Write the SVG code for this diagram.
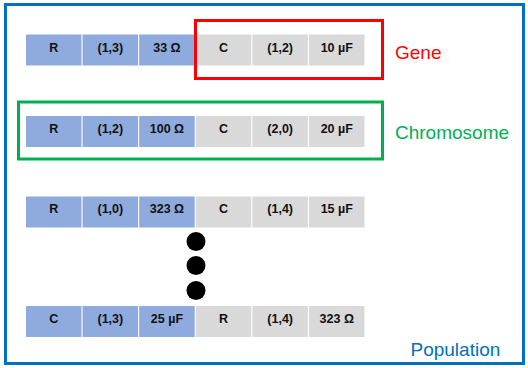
<svg xmlns="http://www.w3.org/2000/svg" width="528" height="368" viewBox="0 0 528 368">
  <style>
    .b { fill: #8FAADC; }
    .g { fill: #D9D9D9; }
    .t { font-family: "Liberation Sans", Arial, sans-serif; font-weight: bold; font-size: 12.5px; fill: #111; text-anchor: middle; }
    .lbl { font-family: "Liberation Sans", Arial, sans-serif; font-size: 19px; }
  </style>
  <rect width="528" height="368" fill="#fff"/>
  <g id="population">
    <rect x="5.5" y="4.5" width="518" height="359" fill="none" stroke="#0070C0" stroke-width="3"/>
    <text class="lbl" x="410.5" y="356" fill="#0070C0">Population</text>
  </g>

  <g id="chromosome1">
    <rect class="b" x="26" y="34.5" width="55.5" height="31"/>
    <rect class="b" x="82.6" y="34.5" width="55.5" height="31"/>
    <rect class="b" x="139.2" y="34.5" width="55.5" height="31"/>
    <rect class="g" x="195.8" y="34.5" width="55.5" height="31"/>
    <rect class="g" x="252.4" y="34.5" width="55.5" height="31"/>
    <rect class="g" x="309" y="34.5" width="55.5" height="31"/>
    <text class="t" x="53.75" y="51.7">R</text>
    <text class="t" x="110.35" y="51.7">(1,3)</text>
    <text class="t" x="166.95" y="51.7">33 Ω</text>
    <text class="t" x="223.55" y="51.7">C</text>
    <text class="t" x="280.15" y="51.7">(1,2)</text>
    <text class="t" x="336.75" y="51.7">10 µF</text>
  </g>

  <g id="chromosome2">
    <rect class="b" x="26" y="116" width="55.5" height="31"/>
    <rect class="b" x="82.6" y="116" width="55.5" height="31"/>
    <rect class="b" x="139.2" y="116" width="55.5" height="31"/>
    <rect class="g" x="195.8" y="116" width="55.5" height="31"/>
    <rect class="g" x="252.4" y="116" width="55.5" height="31"/>
    <rect class="g" x="309" y="116" width="55.5" height="31"/>
    <text class="t" x="53.75" y="132.6">R</text>
    <text class="t" x="110.35" y="132.6">(1,2)</text>
    <text class="t" x="166.95" y="132.6">100 Ω</text>
    <text class="t" x="223.55" y="132.6">C</text>
    <text class="t" x="280.15" y="132.6">(2,0)</text>
    <text class="t" x="336.75" y="132.6">20 µF</text>
  </g>

  <g id="chromosome3">
    <rect class="b" x="26" y="196.5" width="55.5" height="31"/>
    <rect class="b" x="82.6" y="196.5" width="55.5" height="31"/>
    <rect class="b" x="139.2" y="196.5" width="55.5" height="31"/>
    <rect class="g" x="195.8" y="196.5" width="55.5" height="31"/>
    <rect class="g" x="252.4" y="196.5" width="55.5" height="31"/>
    <rect class="g" x="309" y="196.5" width="55.5" height="31"/>
    <text class="t" x="53.75" y="213.2">R</text>
    <text class="t" x="110.35" y="213.2">(1,0)</text>
    <text class="t" x="166.95" y="213.2">323 Ω</text>
    <text class="t" x="223.55" y="213.2">C</text>
    <text class="t" x="280.15" y="213.2">(1,4)</text>
    <text class="t" x="336.75" y="213.2">15 µF</text>
  </g>

  <g id="ellipsis">
    <circle cx="196" cy="241.5" r="9.5" fill="#000"/>
    <circle cx="196" cy="265.5" r="9.5" fill="#000"/>
    <circle cx="196" cy="290.5" r="9.5" fill="#000"/>
  </g>

  <g id="chromosomeN">
    <rect class="b" x="26" y="306" width="55.5" height="31"/>
    <rect class="b" x="82.6" y="306" width="55.5" height="31"/>
    <rect class="b" x="139.2" y="306" width="55.5" height="31"/>
    <rect class="g" x="195.8" y="306" width="55.5" height="31"/>
    <rect class="g" x="252.4" y="306" width="55.5" height="31"/>
    <rect class="g" x="309" y="306" width="55.5" height="31"/>
    <text class="t" x="53.75" y="323">C</text>
    <text class="t" x="110.35" y="323">(1,3)</text>
    <text class="t" x="166.95" y="323">25 µF</text>
    <text class="t" x="223.55" y="323">R</text>
    <text class="t" x="280.15" y="323">(1,4)</text>
    <text class="t" x="336.75" y="323">323 Ω</text>
  </g>

  <g id="gene">
    <rect x="195.5" y="20.5" width="187" height="58" fill="none" stroke="#FF0000" stroke-width="3"/>
    <text class="lbl" x="395" y="58.5" fill="#FF0000">Gene</text>
  </g>

  <g id="chromosome">
    <rect x="18.5" y="102" width="364" height="57" fill="none" stroke="#00B050" stroke-width="3"/>
    <text class="lbl" x="395" y="138.5" fill="#00B050">Chromosome</text>
  </g>
</svg>
